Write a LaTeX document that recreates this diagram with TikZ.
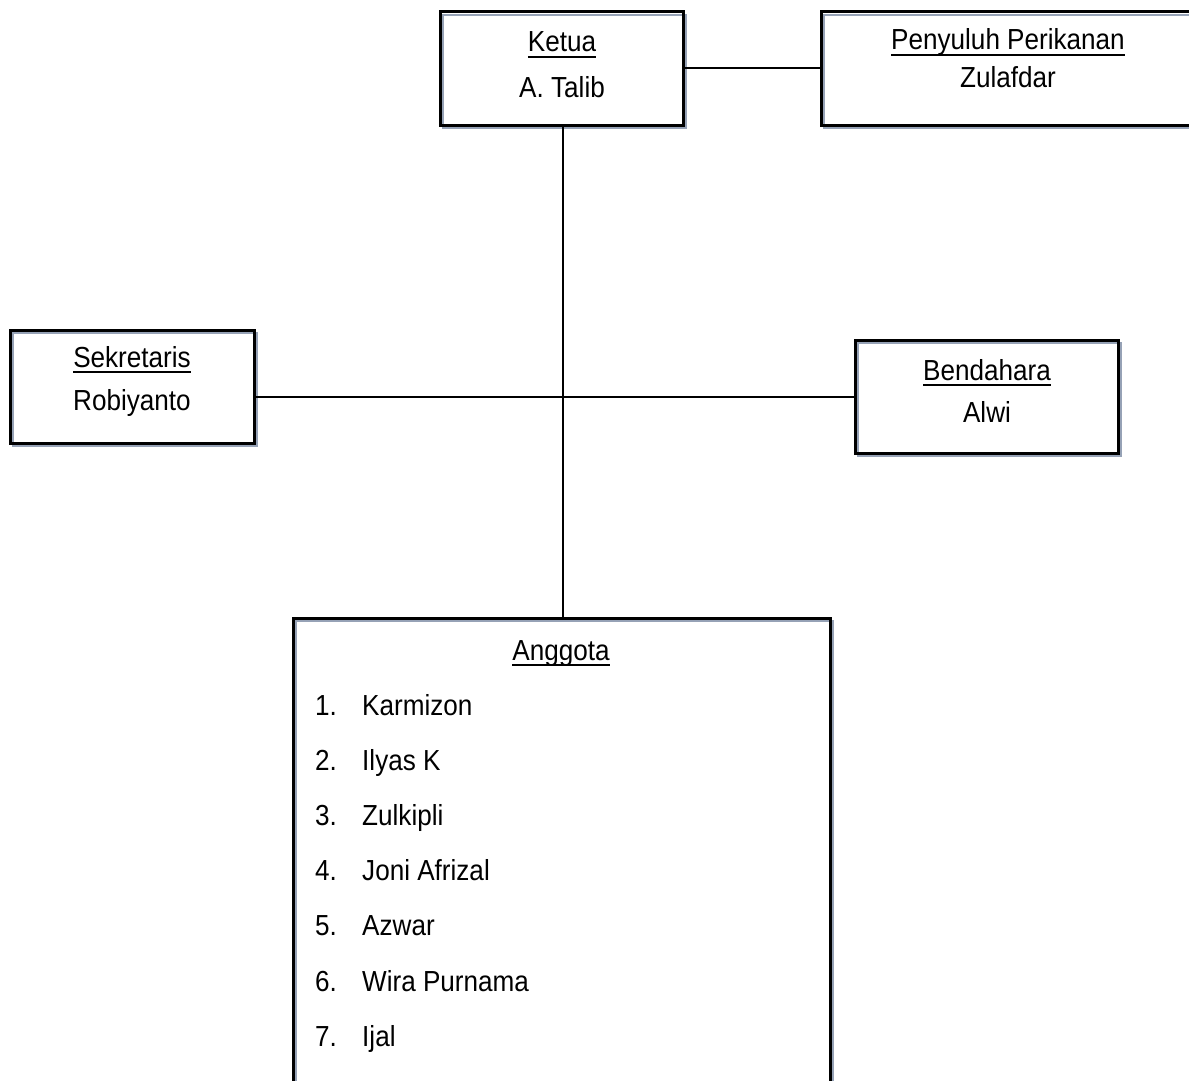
\documentclass[tikz,border=0pt]{standalone}
\usepackage{fontspec}
\setmainfont{Liberation Sans}[FakeStretch=0.9]
\newsavebox\ulbox
\newcommand\ulx[1]{\sbox\ulbox{#1}\rlap{\rule[-6pt]{\wd\ulbox}{2pt}}\usebox\ulbox}
\definecolor{shadowc}{RGB}{150,162,182}
\begin{document}
\begin{tikzpicture}[x=1pt,y=-1pt,
  orgbox/.style={rectangle, draw=black, line width=3pt, inner sep=0pt,
    preaction={draw=shadowc, line width=2pt, transform canvas={shift={(3pt,-3pt)}}}},
  conn/.style={draw=black, line width=2pt},
  txt/.style={font=\fontsize{29}{34}\selectfont, inner sep=0pt, anchor=base},
  itm/.style={font=\fontsize{29}{34}\selectfont, inner sep=0pt, anchor=base west}]
\useasboundingbox (0,0) rectangle (1189,1081);
% boxes
\node[orgbox, minimum width=243pt, minimum height=113pt] (ketua) at (561.5,68.5) {};
\node[orgbox, minimum width=379pt, minimum height=113pt] (peny) at (1010.5,68.5) {};
\node[orgbox, minimum width=244pt, minimum height=113pt] (sek) at (132,386.5) {};
\node[orgbox, minimum width=263pt, minimum height=113pt] (bend) at (986.5,396.5) {};
\node[orgbox, minimum width=537pt, minimum height=482pt] (ang) at (561.5,859) {};
% connectors
\draw[conn] (ketua.east) -- (peny.west);
\draw[conn] (sek.east |- bend.west) -- (bend.west);
\draw[conn] ([xshift=1.5pt]ketua.south) -- ([xshift=1.5pt]ang.north);
% texts
\node[txt] (t1) at (562,52) {\ulx{Ketua}};
\node[txt] (t2) at (562,97) {A. Talib};
\node[txt] (t3) at (1008,50) {\ulx{Penyuluh Perikanan}};
\node[txt] (t4) at (1008,88) {Zulafdar};
\node[txt] (t5) at (132,367) {\ulx{Sekretaris}};
\node[txt] (t6) at (132,410) {Robiyanto};
\node[txt] (t7) at (987,380) {\ulx{Bendahara}};
\node[txt] (t8) at (987,422) {Alwi};
\node[txt] (t9) at (561,660) {\ulx{Anggota}};
\foreach \n/\name [count=\i from 0] in {1/Karmizon,2/Ilyas K,3/Zulkipli,4/Joni Afrizal,5/Azwar,6/Wira Purnama,7/Ijal}{
  \node[itm] (n\n) at (315,715+55.2*\i) {\n.};
  \node[itm] (m\n) at (362,715+55.2*\i) {\name};
}
\end{tikzpicture}
\end{document}
